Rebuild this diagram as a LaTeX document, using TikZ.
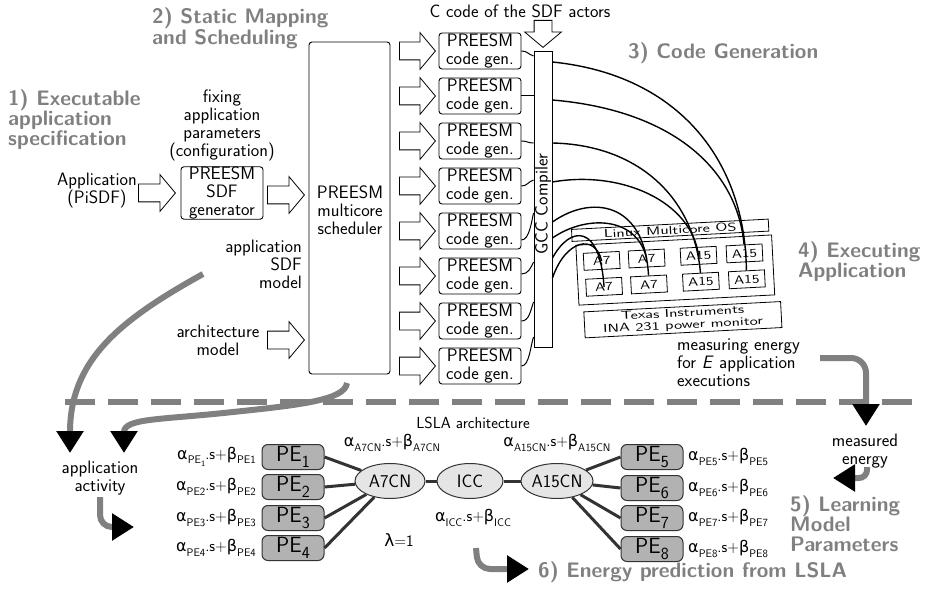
\documentclass[tikz,border=0pt]{standalone}
\usepackage{fontspec}
\newfontfamily\gk{DejaVu Sans}
\usetikzlibrary{shapes.arrows,shapes.geometric,arrows.meta}
\newcommand\fs[1]{\fontsize{#1}{#1}\selectfont}
\newcommand\lsub[1]{\raisebox{-0.28em}{\fs{11}#1}}
\newcommand\lsubb[1]{\raisebox{-0.25em}{\fs{8}#1}}
\newcommand\al{{\gk\fs{16}α}}
\newcommand\be{{\gk\fs{16}β}}
\newcommand\cost[2]{\al\lsub{#1}.s+\be\lsub{#2}}
\newcommand\pesub[1]{PE\raisebox{-0.3em}{\fs{17}#1}}
\newcommand\bt[1]{\scalebox{1.45}[1]{#1}}
\begin{document}
\begin{tikzpicture}[x=1pt,y=-1pt,
 base/.style={font=\sffamily\fs{18}, inner sep=0pt, align=center},
 ttl/.style={font=\sffamily\bfseries\fontsize{21}{20}\selectfont, text=gray, align=left, anchor=west, inner sep=0pt},
 pbox/.style={draw, line width=0.9pt, rounded corners=3pt, font=\sffamily\fs{18}, align=center, inner sep=0pt},
 harr/.style={single arrow, draw, line width=0.8pt, fill=white, anchor=tail, minimum height=37pt, inner sep=8.5pt, minimum width=0pt, single arrow head extend=9.5pt, single arrow tip angle=100},
 wire/.style={line width=1.4pt},
 link/.style={line width=1pt},
 garr/.style={draw=gray, line width=6pt, -{Triangle[length=22pt,width=26pt,color=black]}},
 pebox/.style={draw=black!80, fill=gray!60, line width=1pt, rounded corners=6pt, minimum width=62pt, minimum height=25pt, inner sep=0pt, font=\sffamily\fs{22}},
 cn/.style={ellipse, draw=black!80, fill=gray!20, line width=1pt, inner sep=0pt, minimum height=35pt, font=\sffamily\fs{18}},
 lsl/.style={line width=3pt, draw=black!80},
 core/.style={draw, fill=white, line width=0.8pt, minimum width=36pt, minimum height=17pt, inner sep=0pt, font=\sffamily\fs{12}},
 lab/.style={font=\sffamily\fs{16}, inner sep=0pt},
 btxt/.style={font=\sffamily\fontsize{11.5}{12}\selectfont, align=center, inner sep=0pt}
]
\useasboundingbox (0,0) rectangle (928,593);

% titles
\node[ttl] (t1) at (8,120) {1) Executable\\application\\specification};
\node[ttl] (t2) at (152,28) {2) Static Mapping\\and Scheduling};
\node[ttl] (t3) at (628,53) {3) Code Generation};
\node[ttl] (t4) at (798,262) {4) Executing\\Application};
\node[ttl] (t5) at (790,524) {5) Learning\\Model\\Parameters};
\node[ttl] (t6) at (538,572) {6) Energy prediction from LSLA};

% left part
\node[base, anchor=east] (app) at (137,191) {Application\\(PiSDF)};
\node[harr] (a1) at (138,193) {};
\node[base] (fix) at (222,125) {fixing\\application\\parameters\\(configuration)};
\node[pbox, minimum width=82pt, minimum height=49pt] (gen) at (222,193) {PREESM\\SDF\\generator};
\node[harr] (a2) at (267,195) {};
\node[pbox, minimum width=81pt, minimum height=332pt] (sched) at (349.5,208) {};
\node[base] (schedt) at (350,210) {PREESM\\multicore\\scheduler};
\node[base, anchor=east, align=right] (sdfm) at (302,264) {application\\SDF\\model};
\node[base] (arch) at (218,340) {architecture\\model};
\node[harr] (a3) at (267,340) {};

% code generators
\foreach \i/\y in {1/51,2/96,3/141,4/186,5/231,6/276,7/321,8/366} {
  \node[harr, minimum height=36pt] (h\i) at (399,\y) {};
  \node[pbox, minimum width=82pt, minimum height=36pt] (cg\i) at (480,\y) {PREESM\\code gen.};
}
\node[base] (ccode) at (520,11) {C code of the SDF actors};
\node[harr, shape border rotate=270, minimum height=27pt] (a4) at (543,20) {};
\node[draw, line width=0.9pt, minimum width=18pt, minimum height=296pt, inner sep=0pt] (gcc) at (543,199) {};
\node[base, rotate=90] (gcct) at (543,204) {GCC Compiler};

\draw[link] (cg1.east) .. controls +(6,0) and +(-6,-2) .. (gcc.west |- 0,56);
\draw[link] (cg2.east) -- (gcc.west |- 0,96);
\draw[link] (cg3.east) .. controls +(6,0) and +(-6,0) .. (gcc.west |- 0,143);
\draw[link] (cg4.east) .. controls +(6,0) and +(-6,2) .. (gcc.west |- 0,180);
\draw[link] ([yshift=-9pt]cg5.east) .. controls +(8,0) and +(-2,8) .. (gcc.west |- 0,213);
\draw[link] ([yshift=2pt]cg6.east) .. controls +(7,0) and +(-3,6) .. (gcc.west |- 0,262);
\draw[link] (cg7.east) .. controls +(8,0) and +(-3,8) .. (gcc.west |- 0,302);
\draw[link] (cg8.east) .. controls +(8,0) and +(-3,8) .. (gcc.west |- 0,337);

% board
\begin{scope}[shift={(676,265)}, rotate=3, transform shape]
  \node[draw, line width=0.8pt, minimum width=196pt, minimum height=60pt, inner sep=0pt] (board) at (-1,5) {};
  \node[draw, fill=white, line width=0.8pt, minimum width=197pt, minimum height=12pt, inner sep=0pt, btxt] (os) at (-4,-35) {\bt{Linux Multicore OS}};
  \node[core] (t1c) at (-74,-8) {\scalebox{1.3}[1]{A7}};
  \node[core] (t2c) at (-29,-8) {\scalebox{1.3}[1]{A7}};
  \node[core] (t3c) at (23,-8) {\scalebox{1.3}[1]{A15}};
  \node[core] (t4c) at (69,-8) {\scalebox{1.3}[1]{A15}};
  \node[core] (b1c) at (-73,18) {\scalebox{1.3}[1]{A7}};
  \node[core] (b2c) at (-28,18) {\scalebox{1.3}[1]{A7}};
  \node[core] (b3c) at (24,18) {\scalebox{1.3}[1]{A15}};
  \node[core] (b4c) at (70,18) {\scalebox{1.3}[1]{A15}};
  \node[draw, line width=0.8pt, minimum width=197pt, minimum height=26pt, btxt] (ti) at (4,55) {\bt{Texas Instruments}\\\bt{INA 231 power monitor}};
\end{scope}

% wires
\draw[wire] (gcc.east |- 0,62) .. controls +(128,13) and +(-1,-108) .. (b4c.north);
\draw[wire] (gcc.east |- 0,100) .. controls +(118,10) and +(-7,-77) .. (t4c.north);
\draw[wire] (gcc.east |- 0,143) .. controls +(88,2) and +(-6,-73) .. (b3c.north);
\draw[wire] (gcc.east |- 0,182) .. controls +(68,-12) and +(-7,-55) .. (t3c.center);
\draw[wire] (gcc.east |- 0,222) .. controls +(38,-27) and +(-4,-75) .. (b2c.north);
\draw[wire] (gcc.east |- 0,238) .. controls +(33,-23) and +(-10,-43) .. (t2c.center);
\draw[wire] (gcc.east |- 0,258) .. controls +(18,-33) and +(-4,-63) .. (b1c.center);
\draw[wire] (gcc.east |- 0,278) .. controls +(13,-38) and +(-7,-28) .. (t1c.center);

\node[base, anchor=west, align=left] (meas) at (677,363) {measuring energy\\for \textit{E} application\\executions};

% separator
\draw[gray, line width=6pt, dash pattern=on 30pt off 13pt] (65,402) -- (915,402);

% bottom texts
\node[base] (act) at (100,478) {application\\activity};
\node[base] (menergy) at (865,451) {measured\\energy};
\node[lab] (lsla) at (473,423) {LSLA architecture};

% gray arrows
\coordinate (g1s) at (203,274);
\coordinate (g1e) at (70,453);
\coordinate (g2s) at (347,383);
\coordinate (g2m) at (233,412);
\coordinate (g2e) at (124,453);
\draw[garr] (g1s) .. controls (120,320) and (70,360) .. (g1e);
\draw[garr] (g2s) .. controls (345,400) and (300,405) .. (g2m) .. controls (160,420) and (124,418) .. (g2e);
\coordinate (g3s) at (100,497);
\coordinate (g3c) at (100,527);
\coordinate (g3e) at (134,527);
\draw[garr, rounded corners=12pt] (g3s) -- (g3c) -- (g3e);
\coordinate (g4s) at (820,358);
\coordinate (g4c) at (866,358);
\coordinate (g4e) at (866,426);
\draw[garr, rounded corners=15pt] (g4s) -- (g4c) -- (g4e);
\coordinate (g5s) at (867,467);
\coordinate (g5c) at (867,478);
\coordinate (g5e) at (833,478);
\draw[garr, rounded corners=8pt] (g5s) -- (g5c) -- (g5e);
\coordinate (g6s) at (476,548);
\coordinate (g6c) at (478,569);
\coordinate (g6e) at (529,569);
\draw[garr, rounded corners=12pt] (g6s) -- (g6c) -- (g6e);

% LSLA graph
\node[cn, minimum width=70pt] (a7cn) at (390,481) {A7CN};
\node[cn, minimum width=66pt] (icc) at (470,481) {ICC};
\node[cn, minimum width=70pt] (a15cn) at (557,481) {A15CN};
\draw[lsl] (a7cn) -- (icc);
\draw[lsl] (icc) -- (a15cn);
\foreach \i/\y in {1/457,2/487,3/518,4/548} {
  \node[pebox] (pe\i) at (293,\y) {\pesub{\i}};
  \draw[lsl] (pe\i.east) -- (a7cn);
}
\foreach \i/\y in {5/457,6/488,7/518,8/549} {
  \node[pebox] (pe\i) at (652,\y) {\pesub{\i}};
  \draw[lsl] (a15cn) -- (pe\i.west);
  \node[lab, anchor=west] (r\i) at (688,\y) {\cost{PE\i}{PE\i}};
}
\node[lab, anchor=east] (l1) at (256,457) {\cost{PE\lsubb{1}}{PE1}};
\node[lab, anchor=east] (l2) at (256,487) {\cost{PE2}{PE2}};
\node[lab, anchor=east] (l3) at (256,518) {\cost{PE3}{PE3}};
\node[lab, anchor=east] (l4) at (256,548) {\cost{PE4}{PE4}};
\node[lab] (la7) at (392,443) {\cost{A7CN}{A7CN}};
\node[lab] (la15) at (557,443) {\cost{A15CN}{A15CN}};
\node[lab] (licc) at (473,518) {\cost{ICC}{ICC}};
\node[lab] (lam) at (399,540) {{\gk\fs{17}λ}=1};
\end{tikzpicture}
\end{document}
